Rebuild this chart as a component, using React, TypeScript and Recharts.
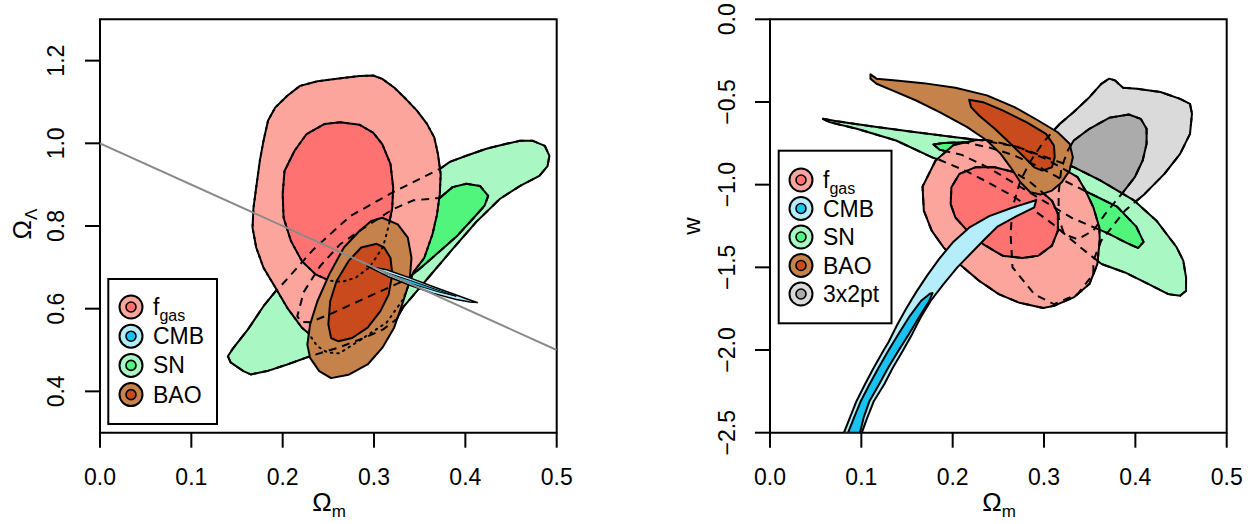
import React from 'react';
import { ScatterChart, Scatter, XAxis, YAxis, ReferenceArea } from 'recharts';

type P = [number, number];
const FONT = '"Liberation Sans", Arial, Helvetica, sans-serif';

// ---------- axis ticks ----------
const xTicks = [0, 0.1, 0.2, 0.3, 0.4, 0.5];
const yTicksL = [0.4, 0.6, 0.8, 1.0, 1.2];
const yTicksR = [-2.5, -2.0, -1.5, -1.0, -0.5, 0.0];

// ---------- left panel (Omega_m, Omega_Lambda) ----------
const fgasOuterL: P[] = [[0.299,1.164],[0.309,1.156],[0.322,1.135],[0.335,1.107],[0.347,1.079],[0.358,1.047],[0.366,1.014],[0.370,0.974],[0.373,0.925],[0.372,0.877],[0.369,0.828],[0.364,0.780],[0.355,0.723],[0.343,0.688],[0.332,0.623],[0.314,0.567],[0.282,0.520],[0.262,0.492],[0.249,0.494],[0.238,0.509],[0.228,0.541],[0.221,0.554],[0.205,0.602],[0.192,0.651],[0.179,0.699],[0.171,0.748],[0.167,0.796],[0.168,0.844],[0.172,0.909],[0.175,0.958],[0.179,1.006],[0.184,1.055],[0.192,1.087],[0.205,1.115],[0.219,1.139],[0.238,1.150],[0.259,1.156],[0.284,1.163]];
const fgasInnerL: P[] = [[0.263,1.051],[0.284,1.045],[0.299,1.026],[0.309,0.998],[0.318,0.950],[0.321,0.893],[0.320,0.844],[0.316,0.800],[0.310,0.750],[0.295,0.700],[0.280,0.675],[0.265,0.665],[0.251,0.668],[0.244,0.675],[0.236,0.683],[0.221,0.715],[0.209,0.764],[0.201,0.820],[0.200,0.877],[0.202,0.933],[0.213,0.982],[0.226,1.022],[0.246,1.047]];
const snOuterL: P[] = [[0.140,0.485],[0.143,0.470],[0.157,0.449],[0.165,0.441],[0.183,0.449],[0.205,0.465],[0.230,0.485],[0.260,0.505],[0.290,0.530],[0.310,0.550],[0.325,0.575],[0.332,0.604],[0.361,0.679],[0.386,0.744],[0.412,0.810],[0.438,0.866],[0.460,0.897],[0.481,0.921],[0.490,0.945],[0.492,0.970],[0.487,0.994],[0.474,1.006],[0.460,1.006],[0.445,0.999],[0.423,0.987],[0.401,0.970],[0.383,0.955],[0.372,0.938],[0.321,0.882],[0.274,0.824],[0.234,0.744],[0.198,0.655],[0.194,0.647],[0.179,0.606],[0.162,0.550],[0.145,0.502]];
const snInnerL: P[] = [[0.372,0.868],[0.386,0.894],[0.401,0.902],[0.416,0.897],[0.425,0.873],[0.421,0.849],[0.408,0.817],[0.391,0.776],[0.372,0.739],[0.358,0.712],[0.347,0.691],[0.336,0.671],[0.310,0.645],[0.280,0.615],[0.255,0.590],[0.230,0.567],[0.220,0.568],[0.216,0.582],[0.223,0.640],[0.241,0.703],[0.263,0.756],[0.292,0.800],[0.321,0.841],[0.343,0.862]];
const baoOuterL: P[] = [[0.309,0.820],[0.326,0.804],[0.337,0.772],[0.341,0.723],[0.339,0.667],[0.332,0.618],[0.322,0.554],[0.309,0.505],[0.293,0.465],[0.272,0.440],[0.253,0.432],[0.240,0.449],[0.230,0.481],[0.227,0.513],[0.230,0.562],[0.238,0.618],[0.251,0.683],[0.267,0.748],[0.284,0.788],[0.297,0.812]];
const baoInnerL: P[] = [[0.303,0.757],[0.311,0.748],[0.318,0.723],[0.320,0.683],[0.316,0.634],[0.307,0.594],[0.293,0.554],[0.276,0.529],[0.261,0.521],[0.253,0.529],[0.250,0.562],[0.252,0.618],[0.259,0.667],[0.272,0.715],[0.286,0.748]];
const cmbOuterL: P[] = [[0.292,0.703],[0.314,0.694],[0.340,0.674],[0.365,0.653],[0.390,0.633],[0.405,0.621],[0.413,0.615],[0.405,0.616],[0.390,0.622],[0.365,0.637],[0.340,0.656],[0.315,0.678],[0.298,0.697]];
const cmbInnerL: P[] = [[0.310,0.690],[0.340,0.668],[0.370,0.645],[0.390,0.630],[0.370,0.641],[0.340,0.661],[0.312,0.686]];
const flatLine: P[] = [[0, 1.0], [0.5, 0.5]];

// ---------- right panel (Omega_m, w) ----------
const tpOuterR: P[] = [[0.3174,-0.632],[0.3325,-0.561],[0.3497,-0.471],[0.3627,-0.390],[0.3713,-0.359],[0.3778,-0.370],[0.3865,-0.414],[0.4016,-0.420],[0.4275,-0.440],[0.449,-0.481],[0.4598,-0.511],[0.462,-0.571],[0.4598,-0.693],[0.449,-0.814],[0.4318,-0.935],[0.4102,-1.056],[0.3886,-1.157],[0.3627,-1.339],[0.354,-1.46],[0.354,-1.541],[0.3368,-1.662],[0.3109,-1.723],[0.2893,-1.662],[0.2655,-1.500],[0.2634,-1.298],[0.2655,-1.137],[0.2742,-0.975],[0.285,-0.860],[0.298,-0.753],[0.3087,-0.683]];
const tpInnerR: P[] = [[0.3325,-0.733],[0.3497,-0.662],[0.3713,-0.596],[0.3929,-0.576],[0.4059,-0.602],[0.4123,-0.662],[0.4123,-0.753],[0.408,-0.854],[0.3994,-0.955],[0.3865,-1.046],[0.367,-1.177],[0.354,-1.278],[0.3368,-1.330],[0.322,-1.300],[0.316,-1.200],[0.316,-1.050],[0.319,-0.900],[0.326,-0.794]];
const snOuterR: P[] = [[0.058,-0.602],[0.073,-0.616],[0.117,-0.652],[0.160,-0.683],[0.203,-0.713],[0.233,-0.733],[0.270,-0.770],[0.300,-0.830],[0.332,-0.893],[0.361,-0.972],[0.398,-1.093],[0.4231,-1.218],[0.445,-1.377],[0.4525,-1.46],[0.4555,-1.561],[0.4555,-1.642],[0.449,-1.672],[0.436,-1.662],[0.4145,-1.601],[0.3886,-1.531],[0.363,-1.480],[0.340,-1.380],[0.310,-1.240],[0.288,-1.150],[0.266,-1.070],[0.240,-0.990],[0.2157,-0.920],[0.186,-0.851],[0.177,-0.834],[0.138,-0.733],[0.095,-0.662],[0.065,-0.622]];
const snInnerR: P[] = [[0.179,-0.757],[0.190,-0.748],[0.2116,-0.743],[0.240,-0.775],[0.266,-0.820],[0.290,-0.880],[0.320,-0.970],[0.350,-1.052],[0.380,-1.133],[0.401,-1.254],[0.409,-1.346],[0.403,-1.383],[0.391,-1.354],[0.369,-1.292],[0.330,-1.200],[0.300,-1.100],[0.270,-1.000],[0.240,-0.900],[0.210,-0.820],[0.1857,-0.789]];
const fgasOuterR: P[] = [[0.238,-0.730],[0.226,-0.730],[0.201,-0.760],[0.1813,-0.854],[0.167,-1.012],[0.1684,-1.157],[0.177,-1.278],[0.190,-1.379],[0.2073,-1.480],[0.2288,-1.581],[0.2504,-1.662],[0.272,-1.712],[0.299,-1.746],[0.3109,-1.733],[0.3325,-1.682],[0.3497,-1.601],[0.3584,-1.480],[0.361,-1.334],[0.3605,-1.258],[0.354,-1.137],[0.3454,-1.036],[0.3368,-0.955],[0.320,-0.900],[0.300,-0.840],[0.270,-0.770]];
const fgasInnerR: P[] = [[0.2461,-0.895],[0.2245,-0.895],[0.2073,-0.935],[0.1986,-1.016],[0.1978,-1.117],[0.2029,-1.198],[0.2159,-1.278],[0.2332,-1.359],[0.2547,-1.430],[0.2763,-1.444],[0.2936,-1.430],[0.3087,-1.369],[0.3152,-1.278],[0.3152,-1.177],[0.3087,-1.097],[0.298,-1.046],[0.285,-0.985],[0.2677,-0.925]];
const baoOuterR: P[] = [[0.110,-0.333],[0.1166,-0.359],[0.138,-0.370],[0.168,-0.386],[0.203,-0.414],[0.2375,-0.460],[0.2677,-0.531],[0.2936,-0.612],[0.315,-0.683],[0.328,-0.753],[0.3316,-0.834],[0.328,-0.915],[0.3195,-0.985],[0.3087,-1.036],[0.2958,-1.060],[0.285,-1.046],[0.2742,-0.985],[0.2634,-0.895],[0.2526,-0.814],[0.2375,-0.733],[0.2159,-0.652],[0.1857,-0.561],[0.160,-0.491],[0.1339,-0.430],[0.1166,-0.390],[0.110,-0.359]];
const baoInnerR: P[] = [[0.218,-0.487],[0.2332,-0.501],[0.2547,-0.551],[0.2807,-0.622],[0.3022,-0.693],[0.3109,-0.763],[0.3117,-0.834],[0.3087,-0.895],[0.298,-0.915],[0.2893,-0.895],[0.2785,-0.834],[0.2634,-0.753],[0.2461,-0.662],[0.2288,-0.582],[0.2202,-0.531]];
const cmbOuterR: P[] = [[0.2915,-1.092],[0.2893,-1.137],[0.270,-1.190],[0.249,-1.254],[0.235,-1.330],[0.2051,-1.500],[0.190,-1.601],[0.176,-1.702],[0.1649,-1.803],[0.1556,-1.904],[0.1454,-2.005],[0.1346,-2.106],[0.1251,-2.207],[0.1138,-2.308],[0.1065,-2.409],[0.1005,-2.500],[0.0810,-2.500],[0.0875,-2.409],[0.0948,-2.308],[0.1040,-2.207],[0.1137,-2.106],[0.1241,-2.005],[0.130,-1.950],[0.139,-1.850],[0.149,-1.750],[0.160,-1.650],[0.172,-1.550],[0.185,-1.450],[0.200,-1.350],[0.218,-1.260],[0.240,-1.190],[0.265,-1.140],[0.2893,-1.097]];
const cmbInnerR: P[] = [[0.178,-1.655],[0.1745,-1.702],[0.163,-1.803],[0.152,-1.904],[0.1405,-2.005],[0.1295,-2.106],[0.1195,-2.207],[0.109,-2.308],[0.1025,-2.409],[0.0985,-2.500],[0.0855,-2.500],[0.092,-2.409],[0.0995,-2.308],[0.109,-2.207],[0.119,-2.106],[0.1295,-2.005],[0.1405,-1.904],[0.152,-1.803],[0.1655,-1.702],[0.175,-1.660]];

// ---------- legends ----------
const legendLabelsL = ['fgas', 'CMB', 'SN', 'BAO'];
const legendLabelsR = ['fgas', 'CMB', 'SN', 'BAO', '3x2pt'];

const COL: Record<string, [string, string]> = {
  fgas: ['#FBA59D', '#FF7272'],
  CMB: ['#B5EDFB', '#18C3F2'],
  SN: ['#A9F7C3', '#52F57B'],
  BAO: ['#C6824B', '#C94B1D'],
  '3x2pt': ['#DADADA', '#ABABAB'],
};

const pts = (a: P[]) => a.map(([x, y]) => ({ x, y }));
const Empty = () => <g />;

function polyLine(fill: string, stroke: string, width: number, dash?: string, closed = true, cap: 'round' | 'butt' = 'butt') {
  return (p: any) => {
    const ps = (p.points || []).filter((q: any) => q && Number.isFinite(q.x) && Number.isFinite(q.y));
    if (!ps.length) return <g />;
    const d = ps.map((q: any, i: number) => `${i ? 'L' : 'M'}${q.x.toFixed(2)},${q.y.toFixed(2)}`).join(' ') + (closed ? ' Z' : '');
    return <path d={d} fill={fill} stroke={stroke} strokeWidth={width} strokeDasharray={dash} strokeLinejoin="round" strokeLinecap={cap} />;
  };
}

function contour(key: string, data: P[], fill: string, stroke = '#000', width = 2, dash?: string, closed = true, cap: 'round' | 'butt' = 'butt') {
  return (
    <Scatter key={key} name={key} data={pts(data)} shape={Empty} isAnimationActive={false}
      line={polyLine(fill, stroke, width, dash, closed, cap)} lineType="joint" legendType="none" />
  );
}

const fmt = (v: number) => (v < 0 ? '\u2212' : '') + Math.abs(v).toFixed(1);

const makeXTick = (yPos: number) => (props: any) => (
  <text x={props.x} y={yPos} textAnchor="middle" dominantBaseline="central" fontSize={23} fontFamily={FONT} fill="#000">
    {fmt(props.payload.value)}
  </text>
);
const makeYTick = (xPos: number) => (props: any) => (
  <text x={xPos} y={props.y} transform={`rotate(-90 ${xPos} ${props.y})`} textAnchor="middle" dominantBaseline="central" fontSize={23} fontFamily={FONT} fill="#000">
    {fmt(props.payload.value)}
  </text>
);

const tickLine = { stroke: '#000', strokeWidth: 2 };

function LegendBox({ x, y, w, h, cx, y0, step, labels }: any) {
  return (
    <g>
      <rect x={x} y={y} width={w} height={h} fill="#fff" stroke="#000" strokeWidth={2} />
      {labels.map((lab: string, i: number) => {
        const cy = y0 + i * step;
        const [o, inn] = COL[lab];
        return (
          <g key={lab}>
            <circle cx={cx} cy={cy} r={11.5} fill={o} stroke="#000" strokeWidth={2} />
            <circle cx={cx} cy={cy} r={5} fill={inn} stroke="#000" strokeWidth={1.6} />
            {lab === 'fgas' ? (
              <text x={cx + 22} y={cy + 8} fontSize={23} fontFamily={FONT} fill="#000">
                f<tspan fontSize={16} dy={6}>gas</tspan>
              </text>
            ) : (
              <text x={cx + 22} y={cy} dominantBaseline="central" fontSize={23} fontFamily={FONT} fill="#000">{lab}</text>
            )}
          </g>
        );
      })}
    </g>
  );
}

export default function App() {
  return (
    <div style={{ position: 'absolute', left: 0, top: 0, width: 1259, height: 524, background: '#fff', overflow: 'hidden' }}>
      <div style={{ position: 'absolute', left: 0, top: 0 }}>
        <ScatterChart width={640} height={524} margin={{ top: 19.3, right: 83.3, bottom: 41.3, left: 50 }}>
          <XAxis type="number" dataKey="x" domain={[0, 0.5]} ticks={xTicks} allowDataOverflow interval={0} height={50}
            tickSize={15} axisLine={false} stroke="#000" tickLine={tickLine} tick={makeXTick(477)} />
          <YAxis type="number" dataKey="y" domain={[0.3, 1.3]} ticks={yTicksL} allowDataOverflow interval={0} width={50}
            tickSize={15} axisLine={false} stroke="#000" tickLine={tickLine} tick={makeYTick(56)} />
          {contour('snOuterL', snOuterL, COL.SN[0])}
          {contour('snInnerL', snInnerL, COL.SN[1])}
          {contour('fgasOuterL', fgasOuterL, COL.fgas[0])}
          {contour('fgasInnerL', fgasInnerL, COL.fgas[1])}
          {contour('baoOuterL', baoOuterL, COL.BAO[0])}
          {contour('baoInnerL', baoInnerL, COL.BAO[1])}
          {contour('fgasOuterDotL', fgasOuterL, 'none', '#000', 2, '1.5 5', true, 'round')}
          {contour('fgasInnerDotL', fgasInnerL, 'none', '#000', 2, '1.5 5', true, 'round')}
          {contour('snOuterDashL', snOuterL, 'none', '#000', 2, '8 6')}
          {contour('snInnerDashL', snInnerL, 'none', '#000', 2, '8 6')}
          {contour('cmbOuterL', cmbOuterL, COL.CMB[0], '#000', 1.5)}
          {contour('cmbInnerL', cmbInnerL, COL.CMB[1], '#000', 1)}
          {contour('flatLine', flatLine, 'none', '#8a8a8a', 2, undefined, false)}
          <ReferenceArea x1={0} x2={0.5} y1={0.3} y2={1.3} fill="none" stroke="#000" strokeWidth={2} ifOverflow="visible" />
        </ScatterChart>
      </div>
      <div style={{ position: 'absolute', left: 640, top: 0 }}>
        <ScatterChart width={619} height={524} margin={{ top: 19.3, right: 32.3, bottom: 41.3, left: 80 }}>
          <XAxis type="number" dataKey="x" domain={[0, 0.5]} ticks={xTicks} allowDataOverflow interval={0} height={50}
            tickSize={15} axisLine={false} stroke="#000" tickLine={tickLine} tick={makeXTick(477)} />
          <YAxis type="number" dataKey="y" domain={[-2.5, 0]} ticks={yTicksR} allowDataOverflow interval={0} width={50}
            tickSize={15} axisLine={false} stroke="#000" tickLine={tickLine} tick={makeYTick(87)} />
          {contour('tpOuterR', tpOuterR, COL['3x2pt'][0])}
          {contour('tpInnerR', tpInnerR, COL['3x2pt'][1])}
          {contour('snOuterR', snOuterR, COL.SN[0])}
          {contour('snInnerR', snInnerR, COL.SN[1])}
          {contour('fgasOuterR', fgasOuterR, COL.fgas[0])}
          {contour('fgasInnerR', fgasInnerR, COL.fgas[1])}
          {contour('baoOuterR', baoOuterR, COL.BAO[0])}
          {contour('baoInnerR', baoInnerR, COL.BAO[1])}
          {contour('tpOuterDashR', tpOuterR, 'none', '#000', 2, '8 6')}
          {contour('tpInnerDashR', tpInnerR, 'none', '#000', 2, '8 6')}
          {contour('snOuterDashR', snOuterR, 'none', '#000', 2, '8 6')}
          {contour('snInnerDashR', snInnerR, 'none', '#000', 2, '8 6')}
          {contour('fgasOuterDashR', fgasOuterR, 'none', '#000', 2, '8 6')}
          {contour('fgasInnerDashR', fgasInnerR, 'none', '#000', 2, '8 6')}
          {contour('cmbOuterR', cmbOuterR, COL.CMB[0])}
          {contour('cmbInnerR', cmbInnerR, COL.CMB[1])}
          <ReferenceArea x1={0} x2={0.5} y1={-2.5} y2={0} fill="none" stroke="#000" strokeWidth={2} ifOverflow="visible" />
        </ScatterChart>
      </div>
      <svg width={1259} height={524} style={{ position: 'absolute', left: 0, top: 0, pointerEvents: 'none' }}>
        <LegendBox x={108.3} y={279} w={108.7} h={145} cx={131} y0={307} step={29.2} labels={legendLabelsL} />
        <LegendBox x={778.7} y={150.7} w={112.8} h={172.6} cx={801} y0={180} step={28.5} labels={legendLabelsR} />
        <text x={329} y={511} textAnchor="middle" fontSize={26} fontFamily={FONT} fill="#000">
          {'\u03A9'}<tspan fontSize={17} dy={6}>m</tspan>
        </text>
        <text x={999} y={511} textAnchor="middle" fontSize={26} fontFamily={FONT} fill="#000">
          {'\u03A9'}<tspan fontSize={17} dy={6}>m</tspan>
        </text>
        <text x={31} y={224} transform="rotate(-90 31 224)" textAnchor="middle" fontSize={26} fontFamily={FONT} fill="#000">
          {'\u03A9'}<tspan fontSize={17} dy={6}>{'\u039B'}</tspan>
        </text>
        <text x={700} y={226} transform="rotate(-90 700 226)" textAnchor="middle" fontSize={24} fontFamily={FONT} fill="#000">w</text>
      </svg>
    </div>
  );
}
